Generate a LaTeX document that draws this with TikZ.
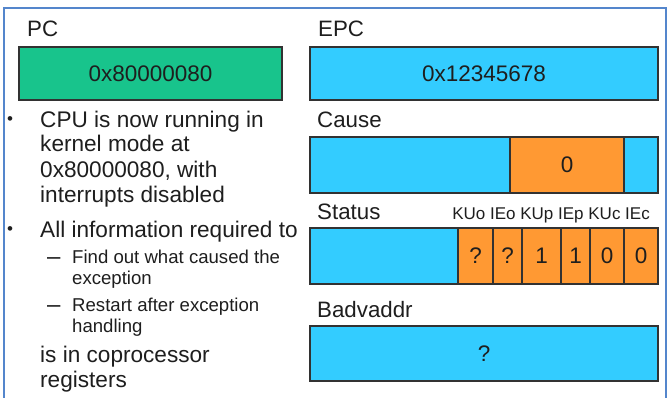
\documentclass[tikz,border=0pt]{standalone}
\usepackage{fontspec}
\setmainfont{Liberation Sans}
\definecolor{pcgreen}{RGB}{24,196,140}
\definecolor{regblue}{RGB}{51,204,255}
\definecolor{bitorange}{RGB}{255,153,51}
\definecolor{frameblue}{RGB}{84,134,204}
\definecolor{ink}{RGB}{30,30,30}
\definecolor{edge}{RGB}{50,50,50}
\tikzset{
  x=1pt, y=-1pt,
  regbox/.style={draw=edge, line width=1.3pt},
  regname/.style={anchor=base west, inner sep=0pt, text=ink, font=\fontsize{22.3}{25}\selectfont},
  regval/.style={inner sep=0pt, text=ink, font=\fontsize{22.5}{25}\selectfont},
  bitname/.style={anchor=base east, inner sep=0pt, text=ink, font=\fontsize{17}{20}\selectfont},
  bodytext/.style={anchor=base west, inner sep=0pt, text=ink, font=\fontsize{22.6}{25}\selectfont},
  subtext/.style={anchor=base west, inner sep=0pt, text=ink, font=\fontsize{18.6}{20}\selectfont},
  bulletmark/.style={anchor=base west, inner sep=0pt, text=ink, font=\fontsize{17}{20}\selectfont},
  dashmark/.style={anchor=base west, inner sep=0pt, text=ink, font=\fontsize{24}{20}\selectfont},
}
\begin{document}
\begin{tikzpicture}
\useasboundingbox (0,0) rectangle (671,398);
\fill[white] (0,0) rectangle (671,398);
\clip (0,0) rectangle (671,398);

% slide frame (open at the bottom edge)
\draw[frameblue, line width=2.4pt] (4,410) -- (4,8) -- (666,8) -- (666,410);

% ---- PC ----
\node[regname] (pclabel) at (27,37) {PC};
\draw[regbox, fill=pcgreen] (19,47) rectangle (282,100);
\node[regval] (pcval) at (150.5,73.5) {0x80000080};

% ---- EPC ----
\node[regname] (epclabel) at (318,37) {EPC};
\draw[regbox, fill=regblue] (310,47) rectangle (658,100);
\node[regval] (epcval) at (484,73.5) {0x12345678};

% ---- Cause ----
\node[regname] (causelabel) at (317,128) {Cause};
\draw[regbox, fill=regblue] (310,137) rectangle (658,193);
\draw[regbox, fill=bitorange] (510,137) rectangle (624,193);
\node[regval] (causeval) at (567,165) {0};

% ---- Status ----
\node[regname] (statuslabel) at (317,219) {Status};
\node[bitname] (bitnames) at (650,219) {KUo IEo KUp IEp KUc IEc};
\draw[regbox, fill=regblue] (310,228) rectangle (658,284);
\foreach \a/\b/\v [count=\i] in {458/493/?, 493/522/?, 522/561/1, 561/590/1, 590/624/0, 624/658/0} {
  \draw[regbox, fill=bitorange] (\a,228) rectangle (\b,284);
  \node[regval] (bit\i) at ({(\a+\b)/2},256) {\v};
}

% ---- Badvaddr ----
\node[regname] (badlabel) at (317,317) {Badvaddr};
\draw[regbox, fill=regblue] (310,326) rectangle (658,381);
\node[regval] (badval) at (484,353.5) {?};

% ---- explanatory text ----
\node[bulletmark] (b1) at (7,125) {•};
\node[bodytext] (t1) at (40,128) {CPU is now running in};
\node[bodytext] (t2) at (40,152) {kernel mode at};
\node[bodytext] (t3) at (40,177) {0x80000080, with};
\node[bodytext] (t4) at (40,202) {interrupts disabled};
\node[bulletmark] (b2) at (7,234) {•};
\node[bodytext] (t5) at (40,237) {All information required to};
\node[dashmark] (d1) at (47,264) {–};
\node[subtext] (s1) at (72,263) {Find out what caused the};
\node[subtext] (s2) at (72,284) {exception};
\node[dashmark] (d2) at (47,312) {–};
\node[subtext] (s3) at (72,311) {Restart after exception};
\node[subtext] (s4) at (72,332) {handling};
\node[bodytext] (t6) at (40,362) {is in coprocessor};
\node[bodytext] (t7) at (40,387) {registers};
\end{tikzpicture}
\end{document}
